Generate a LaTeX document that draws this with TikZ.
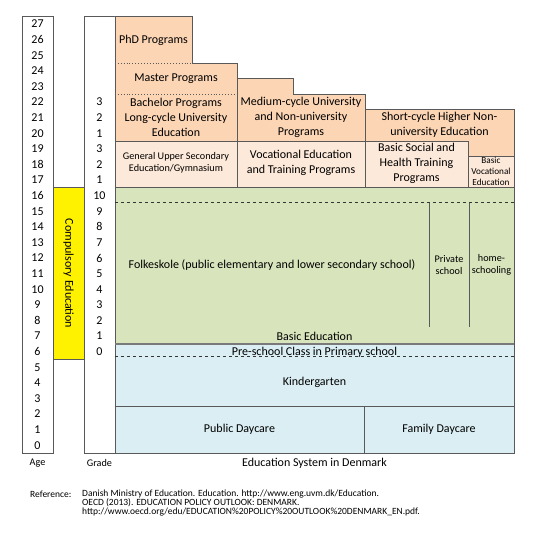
\documentclass[tikz,border=0pt]{standalone}
\usepackage{fontspec}
\setmainfont{Carlito}
\usetikzlibrary{positioning}

\definecolor{tertiary}{HTML}{FCD5B4}
\definecolor{upper}{HTML}{FDE9D9}
\definecolor{basic}{HTML}{D8E4BC}
\definecolor{early}{HTML}{DAEEF3}
\definecolor{edge}{HTML}{595959}

\tikzset{
  box/.style={draw=edge, line width=0.9pt},
  lbl/.style={align=center, inner sep=0pt, font=\fontsize{12}{15}\selectfont},
  small/.style={align=center, inner sep=0pt, font=\fontsize{10.2}{12}\selectfont},
  tiny/.style={align=center, inner sep=0pt, font=\fontsize{9.2}{11}\selectfont},
  ref/.style={align=left, inner sep=0pt, anchor=west, font=\fontsize{9.5}{9.2}\selectfont},
}

\begin{document}
\begin{tikzpicture}[x=1pt, y=15.6pt]
    \useasboundingbox (0,-6.795) rectangle (549,29.04);

    % Age and grade columns
    \fill[yellow] (53,6) rectangle (84,17);
    \draw[box] (53,6) rectangle (84,17);
    \draw[box] (22,0) rectangle (53,28);
    \draw[box] (84,0) rectangle (115,28);
    \foreach \a in {0,...,27} {
        \node[lbl] (age\a) at (37.5, \a+0.5) {\a};
    }
    \foreach \g in {0,...,10} {
        \node[lbl] (grade\g) at (99.5, \g+6.5) {\g};
    }
    \foreach \g in {1,2,3} {
        \node[lbl] (upper\g) at (99.5, \g+16.5) {\g};
        \node[lbl] (uni\g) at (99.5, \g+19.5) {\g};
    }
    \node[lbl, rotate=-90] (compulsory) at (68.5, 11.5) {Compulsory Education};

    % Daycare and kindergarten
    \draw[box, fill=early] (115,0) rectangle (514,7);
    \draw[box] (115,3) -- (514,3);
    \draw[box] (364,0) -- (364,3);
    \draw[dashed, edge!60!black] (115,6.22) -- (514,6.22);
    \node[lbl] (preschool) at (314.5, 6.47) {Pre-school Class in Primary school};
    \node[lbl] (kinder) at (314.5, 4.5) {Kindergarten};
    \node[lbl] (publicdc) at (239.5, 1.5) {Public Daycare};
    \node[lbl] (familydc) at (439, 1.5) {Family Daycare};

    % Basic education
    \draw[box, fill=basic] (115,7) rectangle (514,17);
    \draw[line width=1.6pt, edge!80] (115,7) -- (514,7);
    \draw[dashed, edge!60!black] (115,16.05) -- (514,16.05);
    \draw[box] (429,16.05) -- (429,8.08);
    \draw[box] (469,16.05) -- (469,8.08);
    \node[lbl] (folkeskole) at (272, 12.05) {Folkeskole (public elementary and lower secondary school)};
    \node[small] (private) at (449, 12.05) {Private\\school};
    \node[small] (home) at (491.5, 12.05) {home-\\schooling};
    \node[lbl] (basicedu) at (314.5, 7.5) {Basic Education};

    % Upper secondary
    \draw[box, fill=upper] (115,17) rectangle (237,20);
    \draw[box, fill=upper] (237,17) rectangle (365,20);
    \draw[box, fill=tertiary] (365,19) rectangle (514,22);
    \draw[box, fill=upper] (365,17) rectangle (468,20);
    \draw[box, fill=upper] (468,17) rectangle (514,19);
    \node[small] (gymnasium) at (176, 18.59) {General Upper Secondary\\Education/Gymnasium};
    \node[lbl] (vocational) at (301, 18.59) {Vocational Education\\and Training Programs};
    \node[lbl] (social) at (416.5, 18.56) {Basic Social and\\Health Training\\Programs};
    \node[tiny] (basicvoc) at (491, 18.08) {Basic\\Vocational\\Education};

    % Higher education
    \draw[box, fill=tertiary] (115,20) -- (115,28) -- (192,28) -- (192,25) -- (237,25) -- (237,20) -- cycle;
    \draw[box, fill=tertiary] (237,20) -- (237,24) -- (293,24) -- (293,23) -- (365,23) -- (365,20) -- cycle;
    \draw[dotted, edge, line width=0.9pt] (115,25) -- (192,25);
    \draw[dotted, edge, line width=0.9pt] (115,23) -- (237,23);
    \node[lbl] (phd) at (153.5, 26.47) {PhD Programs};
    \node[lbl] (master) at (176, 23.97) {Master Programs};
    \node[lbl] (bachelor) at (176, 21.54) {Bachelor Programs\\Long-cycle University\\Education};
    \node[lbl] (medium) at (301, 21.54) {Medium-cycle University\\and Non-university\\Programs};
    \node[lbl] (short) at (439.5, 21.03) {Short-cycle Higher Non-\\university Education};

    % Captions
    \node[small] (agecap) at (37.5, -0.64) {Age};
    \node[small] (gradecap) at (99.5, -0.64) {Grade};
    \node[lbl] (title) at (314.5, -0.64) {Education System in Denmark};
    \node[ref] (reflabel) at (30, -2.63) {Reference:};
    \node[ref] (refs) at (82, -3.21) {Danish Ministry of Education. Education. http://www.eng.uvm.dk/Education.\\
        OECD (2013). EDUCATION POLICY OUTLOOK: DENMARK.\\
        http://www.oecd.org/edu/EDUCATION\%20POLICY\%20OUTLOOK\%20DENMARK\_EN.pdf.};
\end{tikzpicture}
\end{document}
